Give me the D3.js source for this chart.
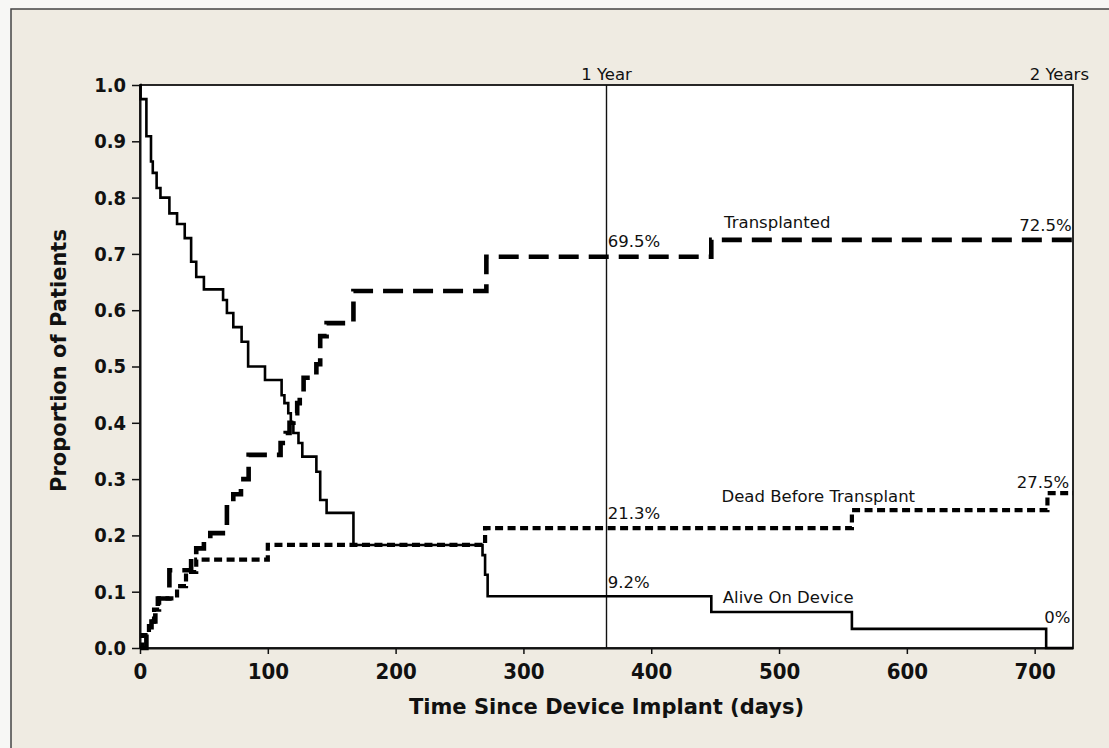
<!DOCTYPE html>
<html>
<head>
<meta charset="utf-8">
<script src="https://cdn.jsdelivr.net/npm/d3@7"></script>
<style>
  body { margin: 0; background: #f7f7f5; }
  text { font-family: "DejaVu Sans", Verdana, sans-serif; fill: #111; }
  .tick text { font-family: "DejaVu Sans", sans-serif; font-stretch: condensed; font-weight: bold; }
  .note { font-size: 16.5px; }
</style>
</head>
<body>
<div id="chart"></div>
<script>
// step curves (days, proportion)
const aliveDays = [0, 0.5, 5, 8.6, 10, 13, 16, 23, 29, 35, 40, 44, 50, 65, 68, 73, 79.5, 84.6, 97.8, 110.8, 113, 116, 118, 120, 124, 127, 138, 141, 146, 167, 268, 270, 272, 447, 557, 709, 730];
const aliveVals = [1, 0.975, 0.909, 0.864, 0.844, 0.817, 0.80, 0.772, 0.753, 0.728, 0.686, 0.659, 0.637, 0.618, 0.595, 0.57, 0.544, 0.50, 0.476, 0.449, 0.435, 0.417, 0.40, 0.382, 0.364, 0.34, 0.313, 0.263, 0.24, 0.183, 0.165, 0.13, 0.092, 0.064, 0.034, 0, 0];

const transDays = [0, 5, 9, 12, 14, 23, 40, 44, 50, 55, 68, 73, 79, 85, 110, 114, 117, 120, 123, 125, 128, 138, 141, 146, 167, 271, 447, 730];
const transVals = [0, 0.025, 0.047, 0.067, 0.088, 0.138, 0.16, 0.177, 0.19, 0.204, 0.25, 0.273, 0.30, 0.343, 0.364, 0.382, 0.40, 0.417, 0.435, 0.453, 0.48, 0.504, 0.554, 0.577, 0.634, 0.695, 0.725, 0.725];

const deadDays = [0, 2, 7, 11, 15, 29, 36, 44, 100, 270, 557, 710, 730];
const deadVals = [0, 0.023, 0.047, 0.068, 0.088, 0.11, 0.135, 0.157, 0.183, 0.213, 0.245, 0.275, 0.275];

const xTicks = [0, 100, 200, 300, 400, 500, 600, 700];
const yTicks = [0, 0.1, 0.2, 0.3, 0.4, 0.5, 0.6, 0.7, 0.8, 0.9, 1.0];

const W = 1109, H = 748;
const plotLeft = 140, plotTop = 85, plotRight = 1073, plotBottom = 648;

const svg = d3.select("#chart").append("svg")
  .attr("width", W)
  .attr("height", H);

// beige panel with frame
svg.append("rect")
  .attr("x", 11).attr("y", 9)
  .attr("width", W).attr("height", H)
  .style("fill", "#efebe2")
  .style("stroke", "#444")
  .style("stroke-width", 1.5);

let x = d3.scaleLinear().domain([0, 730]).range([plotLeft, plotRight]);
let y = d3.scaleLinear().domain([0, 1]).range([plotBottom, plotTop]);

// plot area
svg.append("rect")
  .attr("x", plotLeft).attr("y", plotTop)
  .attr("width", plotRight - plotLeft).attr("height", plotBottom - plotTop)
  .style("fill", "#fff")
  .style("stroke", "#111")
  .style("stroke-width", 1.8);

// axes
let yAxis = d3.axisLeft(y)
  .tickValues(yTicks)
  .tickFormat(d3.format(".1f"))
  .tickSize(8)
  .tickSizeOuter(0)
  .tickPadding(6);

let xAxis = d3.axisBottom(x)
  .tickValues(xTicks)
  .tickSize(6)
  .tickSizeOuter(0)
  .tickPadding(9);

let gy = svg.append("g")
  .attr("transform", `translate(${plotLeft},0)`)
  .call(yAxis);
gy.selectAll("text").style("font-size", "20px");

let gx = svg.append("g")
  .attr("transform", `translate(0,${plotBottom})`)
  .call(xAxis);
gx.selectAll("text").style("font-size", "22px");

svg.selectAll(".domain").style("stroke", "#111").style("stroke-width", 2);
svg.selectAll(".tick line").style("stroke", "#111").style("stroke-width", 1.5);

// axis titles
svg.append("text")
  .attr("transform", `translate(66,${(plotTop + plotBottom) / 2 - 6}) rotate(-90)`)
  .style("text-anchor", "middle")
  .style("font-size", "21px")
  .style("font-weight", "bold")
  .text("Proportion of Patients");

svg.append("text")
  .attr("x", (plotLeft + plotRight) / 2)
  .attr("y", 714)
  .style("text-anchor", "middle")
  .style("font-size", "21px")
  .style("font-weight", "bold")
  .text("Time Since Device Implant (days)");

// 1 year marker
svg.append("line")
  .attr("x1", x(365)).attr("x2", x(365))
  .attr("y1", plotTop).attr("y2", plotBottom)
  .style("stroke", "#111")
  .style("stroke-width", 1.4);

svg.append("text")
  .attr("class", "note")
  .attr("x", x(365)).attr("y", 80)
  .style("text-anchor", "middle")
  .text("1 Year");

svg.append("text")
  .attr("class", "note")
  .attr("x", 1089).attr("y", 80)
  .style("text-anchor", "end")
  .text("2 Years");

// curves
let step = d3.line()
  .x(d => x(d[0]))
  .y(d => y(d[1]))
  .curve(d3.curveStepAfter);

function drawCurve(days, vals, width, dash) {
  svg.append("path")
    .datum(d3.zip(days, vals))
    .attr("d", step)
    .style("fill", "none")
    .style("stroke", "#000")
    .style("stroke-width", width)
    .style("stroke-dasharray", dash);
}

drawCurve(deadDays, deadVals, 4.2, "8,4.5");
drawCurve(transDays, transVals, 4.6, "20,10");
drawCurve(aliveDays, aliveVals, 2.6, null);

// annotations
const notes = [
  {t: "Transplanted", x: 457, v: 0.725, dy: -12, anchor: "start"},
  {t: "69.5%", x: 366, v: 0.695, dy: -10, anchor: "start"},
  {t: "72.5%", x: 729, v: 0.725, dy: -9, anchor: "end"},
  {t: "Dead Before Transplant", x: 455, v: 0.245, dy: -8, anchor: "start"},
  {t: "21.3%", x: 366, v: 0.213, dy: -9, anchor: "start"},
  {t: "27.5%", x: 727, v: 0.275, dy: -5, anchor: "end"},
  {t: "9.2%", x: 366, v: 0.092, dy: -8, anchor: "start"},
  {t: "Alive On Device", x: 456, v: 0.064, dy: -9, anchor: "start"},
  {t: "0%", x: 728, v: 0, dy: -25, anchor: "end"}
];

svg.selectAll("text.lab")
  .data(notes)
  .enter()
  .append("text")
  .attr("class", "lab note")
  .attr("x", d => x(d.x))
  .attr("y", d => y(d.v) + d.dy)
  .style("text-anchor", d => d.anchor)
  .text(d => d.t);
</script>
</body>
</html>
